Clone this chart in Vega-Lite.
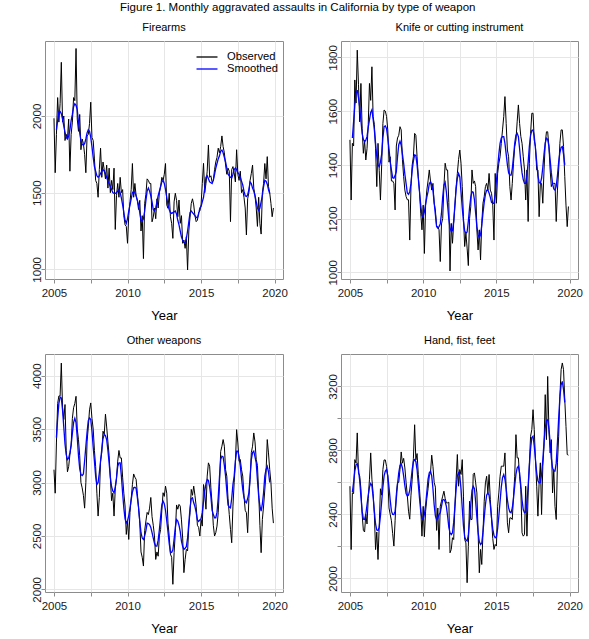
{
"$schema":"https://vega.github.io/schema/vega-lite/v6.json",
"title":{"text":"Figure 1. Monthly aggravated assaults in California by type of weapon","fontSize":11.5,"fontWeight":"normal","anchor":"middle","dx":-9,"offset":8},
"padding":{"left":30,"top":2,"right":5,"bottom":5},
"bounds":"flush",
"spacing":{"row":75,"column":58},
"columns":2,
"data":{"values":[
{"t":2005,"fo":1985,"ko":1493,"wo":3120,"ho":2576},
{"t":2005.083,"fo":1630,"ko":1269,"wo":2900,"ho":2180},
{"t":2005.167,"fo":1880,"fs":1910,"ko":1480,"ks":1500,"wo":3370,"ws":3420,"ho":2535,"hs":2540},
{"t":2005.25,"fo":2120,"fs":1970,"ko":1470,"ks":1560,"wo":3740,"ws":3600,"ho":2530,"hs":2600},
{"t":2005.333,"fo":1960,"fs":2030,"ko":1716,"ks":1620,"wo":3810,"ws":3740,"ho":2742,"hs":2670},
{"t":2005.417,"fo":2080,"fs":2030,"ko":1630,"ks":1665,"wo":3810,"ws":3800,"ho":2720,"hs":2710},
{"t":2005.5,"fo":2350,"fs":2015,"ko":1827,"ks":1678,"wo":4118,"ws":3790,"ho":2909,"hs":2717},
{"t":2005.583,"fo":1960,"fs":1980,"ko":1700,"ks":1650,"wo":3700,"ws":3680,"ho":2660,"hs":2680},
{"t":2005.667,"fo":2000,"fs":1935,"ko":1560,"ks":1616,"wo":3590,"ws":3520,"ho":2640,"hs":2610},
{"t":2005.75,"fo":1840,"fs":1895,"ko":1703,"ks":1565,"wo":3730,"ws":3360,"ho":2560,"hs":2510},
{"t":2005.833,"fo":1880,"fs":1860,"ko":1535,"ks":1517,"wo":3300,"ws":3260,"ho":2400,"hs":2420},
{"t":2005.917,"fo":1850,"fs":1850,"ko":1443,"ks":1495,"wo":3100,"ws":3215,"ho":2300,"hs":2370},
{"t":2006,"fo":1980,"fs":1870,"ko":1490,"ks":1486,"wo":3150,"ws":3230,"ho":2290,"hs":2368},
{"t":2006.083,"fo":1640,"fs":1910,"ko":1418,"ks":1492,"wo":3260,"ws":3277,"ho":2400,"hs":2400},
{"t":2006.167,"fo":1880,"fs":1970,"ko":1460,"ks":1505,"wo":3350,"ws":3350,"ho":2340,"hs":2460},
{"t":2006.25,"fo":1960,"fs":2010,"ko":1550,"ks":1540,"wo":3600,"ws":3460,"ho":2500,"hs":2520},
{"t":2006.333,"fo":2120,"fs":2060,"ko":1703,"ks":1567,"wo":3700,"ws":3560,"ho":2620,"hs":2570},
{"t":2006.417,"fo":2100,"fs":2080,"ko":1640,"ks":1595,"wo":3740,"ws":3600,"ho":2784,"hs":2593},
{"t":2006.5,"fo":2440,"fs":2070,"ko":1765,"ks":1605,"wo":3807,"ws":3560,"ho":2620,"hs":2580},
{"t":2006.583,"fo":1980,"fs":2040,"ko":1580,"ks":1570,"wo":3500,"ws":3420,"ho":2530,"hs":2510},
{"t":2006.667,"fo":1900,"fs":1960,"ko":1550,"ks":1530,"wo":3400,"ws":3250,"ho":2400,"hs":2420},
{"t":2006.75,"fo":2010,"fs":1890,"ko":1460,"ks":1480,"wo":3250,"ws":3130,"ho":2180,"hs":2340},
{"t":2006.833,"fo":1780,"fs":1840,"ko":1319,"ks":1430,"wo":3000,"ws":3075,"ho":2290,"hs":2302},
{"t":2006.917,"fo":1850,"fs":1815,"ko":1480,"ks":1400,"wo":2950,"ws":3065,"ho":2118,"hs":2300},
{"t":2007,"fo":1820,"fs":1810,"ko":1380,"ks":1393,"wo":2880,"ws":3080,"ho":2330,"hs":2320},
{"t":2007.083,"fo":1750,"fs":1820,"ko":1269,"ks":1410,"wo":2760,"ws":3200,"ho":2560,"hs":2390},
{"t":2007.167,"fo":1630,"fs":1850,"ko":1400,"ks":1440,"wo":3000,"ws":3340,"ho":2520,"hs":2480},
{"t":2007.25,"fo":1870,"fs":1890,"ko":1554,"ks":1500,"wo":3380,"ws":3470,"ho":2680,"hs":2570},
{"t":2007.333,"fo":1880,"fs":1910,"ko":1604,"ks":1542,"wo":3520,"ws":3580,"ho":2740,"hs":2640},
{"t":2007.417,"fo":1950,"fs":1900,"ko":1600,"ks":1545,"wo":3680,"ws":3605,"ho":2740,"hs":2670},
{"t":2007.5,"fo":2090,"fs":1860,"ko":1580,"ks":1535,"wo":3745,"ws":3590,"ho":2700,"hs":2680},
{"t":2007.583,"fo":1860,"fs":1800,"ko":1530,"ks":1500,"wo":3600,"ws":3480,"ho":2640,"hs":2640},
{"t":2007.667,"fo":1840,"fs":1730,"ko":1410,"ks":1460,"wo":3500,"ws":3330,"ho":2440,"hs":2570},
{"t":2007.75,"fo":1720,"fs":1670,"ko":1430,"ks":1410,"wo":3300,"ws":3200,"ho":2400,"hs":2490},
{"t":2007.833,"fo":1580,"fs":1640,"ko":1340,"ks":1380,"wo":3150,"ws":3060,"ho":2360,"hs":2420},
{"t":2007.917,"fo":1560,"fs":1610,"ko":1340,"ks":1352,"wo":2900,"ws":2980,"ho":2280,"hs":2400},
{"t":2008,"fo":1470,"fs":1600,"ko":1330,"ks":1350,"wo":2686,"ws":3000,"ho":2202,"hs":2399},
{"t":2008.083,"fo":1650,"fs":1610,"ko":1232,"ks":1360,"wo":2860,"ws":3090,"ho":2360,"hs":2420},
{"t":2008.167,"fo":1790,"fs":1625,"ko":1470,"ks":1375,"wo":3200,"ws":3200,"ho":2530,"hs":2500},
{"t":2008.25,"fo":1600,"fs":1640,"ko":1500,"ks":1430,"wo":3280,"ws":3310,"ho":2600,"hs":2590},
{"t":2008.333,"fo":1700,"fs":1650,"ko":1510,"ks":1475,"wo":3480,"ws":3410,"ho":2600,"hs":2660},
{"t":2008.417,"fo":1650,"fs":1640,"ko":1542,"ks":1488,"wo":3450,"ws":3450,"ho":2680,"hs":2705},
{"t":2008.5,"fo":1590,"fs":1625,"ko":1530,"ks":1474,"wo":3640,"ws":3440,"ho":2790,"hs":2717},
{"t":2008.583,"fo":1680,"fs":1600,"ko":1420,"ks":1440,"wo":3520,"ws":3400,"ho":2720,"hs":2690},
{"t":2008.667,"fo":1530,"fs":1575,"ko":1356,"ks":1406,"wo":3380,"ws":3300,"ho":2750,"hs":2640},
{"t":2008.75,"fo":1660,"fs":1560,"ko":1306,"ks":1365,"wo":3250,"ws":3180,"ho":2690,"hs":2580},
{"t":2008.833,"fo":1500,"fs":1540,"ko":1282,"ks":1331,"wo":3040,"ws":3050,"ho":2600,"hs":2530},
{"t":2008.917,"fo":1580,"fs":1520,"ko":1270,"ks":1295,"wo":2830,"ws":2960,"ho":2520,"hs":2515},
{"t":2009,"fo":1520,"fs":1500,"ko":1270,"ks":1290,"wo":2900,"ws":2920,"ho":2420,"hs":2520},
{"t":2009.083,"fo":1660,"fs":1495,"ko":1120,"ks":1300,"wo":2686,"ws":2904,"ho":2370,"hs":2550},
{"t":2009.167,"fo":1260,"fs":1495,"ko":1320,"ks":1330,"wo":2940,"ws":2960,"ho":2520,"hs":2610},
{"t":2009.25,"fo":1480,"fs":1500,"ko":1400,"ks":1380,"wo":3040,"ws":3040,"ho":2620,"hs":2680},
{"t":2009.333,"fo":1560,"fs":1510,"ko":1430,"ks":1415,"wo":3200,"ws":3150,"ho":2750,"hs":2730},
{"t":2009.417,"fo":1470,"fs":1520,"ko":1517,"ks":1437,"wo":3300,"ws":3184,"ho":2960,"hs":2742},
{"t":2009.5,"fo":1600,"fs":1500,"ko":1510,"ks":1435,"wo":3230,"ws":3184,"ho":2740,"hs":2730},
{"t":2009.583,"fo":1500,"fs":1465,"ko":1430,"ks":1400,"wo":3230,"ws":3060,"ho":2780,"hs":2680},
{"t":2009.667,"fo":1520,"fs":1420,"ko":1356,"ks":1350,"wo":3050,"ws":2900,"ho":2650,"hs":2590},
{"t":2009.75,"fo":1350,"fs":1370,"ko":1300,"ks":1300,"wo":2900,"ws":2760,"ho":2560,"hs":2500},
{"t":2009.833,"fo":1290,"fs":1320,"ko":1220,"ks":1250,"wo":2780,"ws":2660,"ho":2440,"hs":2420},
{"t":2009.917,"fo":1280,"fs":1300,"ko":1158,"ks":1210,"wo":2514,"ws":2620,"ho":2264,"hs":2375},
{"t":2010,"fo":1170,"fs":1330,"ko":1250,"ks":1207,"wo":2640,"ws":2640,"ho":2450,"hs":2368},
{"t":2010.083,"fo":1350,"fs":1380,"ko":1070,"ks":1225,"wo":2467,"ws":2690,"ho":2260,"hs":2400},
{"t":2010.167,"fo":1440,"fs":1420,"ko":1250,"ks":1255,"wo":2720,"ws":2760,"ho":2420,"hs":2460},
{"t":2010.25,"fo":1520,"fs":1460,"ko":1306,"ks":1280,"wo":2850,"ws":2840,"ho":2500,"hs":2540},
{"t":2010.333,"fo":1690,"fs":1500,"ko":1340,"ks":1300,"wo":2980,"ws":2910,"ho":2560,"hs":2620},
{"t":2010.417,"fo":1470,"fs":1510,"ko":1381,"ks":1330,"wo":3080,"ws":2950,"ho":2640,"hs":2660},
{"t":2010.5,"fo":1560,"fs":1500,"ko":1340,"ks":1337,"wo":3050,"ws":2955,"ho":2660,"hs":2670},
{"t":2010.583,"fo":1480,"fs":1480,"ko":1306,"ks":1325,"wo":3030,"ws":2945,"ho":2770,"hs":2640},
{"t":2010.667,"fo":1450,"fs":1450,"ko":1331,"ks":1305,"wo":2900,"ws":2860,"ho":2700,"hs":2560},
{"t":2010.75,"fo":1390,"fs":1420,"ko":1257,"ks":1260,"wo":2760,"ws":2770,"ho":2600,"hs":2460},
{"t":2010.833,"fo":1450,"fs":1370,"ko":1232,"ks":1215,"wo":2620,"ws":2640,"ho":2570,"hs":2390},
{"t":2010.917,"fo":1250,"fs":1320,"ko":1170,"ks":1170,"wo":2350,"ws":2530,"ho":2300,"hs":2368},
{"t":2011,"fo":1350,"fs":1315,"ko":1170,"ks":1164,"wo":2300,"ws":2480,"ho":2440,"hs":2375},
{"t":2011.083,"fo":1070,"fs":1330,"ko":1158,"ks":1170,"wo":2218,"ws":2467,"ho":2181,"hs":2400},
{"t":2011.167,"fo":1430,"fs":1380,"ko":1040,"ks":1180,"wo":2550,"ws":2500,"ho":2451,"hs":2410},
{"t":2011.25,"fo":1490,"fs":1450,"ko":1180,"ks":1220,"wo":2640,"ws":2550,"ho":2482,"hs":2450},
{"t":2011.333,"fo":1590,"fs":1510,"ko":1200,"ks":1280,"wo":2720,"ws":2620,"ho":2514,"hs":2490},
{"t":2011.417,"fo":1580,"fs":1530,"ko":1319,"ks":1325,"wo":2700,"ws":2615,"ho":2545,"hs":2493},
{"t":2011.5,"fo":1560,"fs":1510,"ko":1406,"ks":1335,"wo":2760,"ws":2605,"ho":2500,"hs":2480},
{"t":2011.583,"fo":1560,"fs":1480,"ko":1381,"ks":1300,"wo":2860,"ws":2580,"ho":2472,"hs":2450},
{"t":2011.667,"fo":1310,"fs":1440,"ko":1381,"ks":1250,"wo":2680,"ws":2530,"ho":2472,"hs":2390},
{"t":2011.75,"fo":1340,"fs":1390,"ko":1260,"ks":1200,"wo":2600,"ws":2480,"ho":2476,"hs":2320},
{"t":2011.833,"fo":1400,"fs":1380,"ko":1005,"ks":1165,"wo":2500,"ws":2430,"ho":2160,"hs":2285},
{"t":2011.917,"fo":1330,"fs":1400,"ko":1182,"ks":1152,"wo":2280,"ws":2405,"ho":2181,"hs":2274},
{"t":2012,"fo":1460,"fs":1440,"ko":1108,"ks":1155,"wo":2350,"ws":2405,"ho":2254,"hs":2285},
{"t":2012.083,"fo":1400,"fs":1480,"ko":1182,"ks":1190,"wo":2310,"ws":2460,"ho":2243,"hs":2350},
{"t":2012.167,"fo":1500,"fs":1510,"ko":1250,"ks":1250,"wo":2500,"ws":2560,"ho":2451,"hs":2450},
{"t":2012.25,"fo":1540,"fs":1540,"ko":1319,"ks":1310,"wo":2560,"ws":2680,"ho":2618,"hs":2560},
{"t":2012.333,"fo":1600,"fs":1570,"ko":1368,"ks":1350,"wo":2740,"ws":2790,"ho":2774,"hs":2640},
{"t":2012.417,"fo":1580,"fs":1580,"ko":1420,"ks":1368,"wo":2904,"ws":2826,"ho":2576,"hs":2659},
{"t":2012.5,"fo":1620,"fs":1560,"ko":1455,"ks":1355,"wo":2870,"ws":2800,"ho":2680,"hs":2640},
{"t":2012.583,"fo":1690,"fs":1520,"ko":1406,"ks":1300,"wo":2966,"ws":2740,"ho":2649,"hs":2560},
{"t":2012.667,"fo":1420,"fs":1470,"ko":1319,"ks":1240,"wo":2900,"ws":2640,"ho":2742,"hs":2440},
{"t":2012.75,"fo":1398,"fs":1420,"ko":1207,"ks":1190,"wo":2620,"ws":2540,"ho":2514,"hs":2330},
{"t":2012.833,"fo":1496,"fs":1390,"ko":1096,"ks":1155,"wo":2500,"ws":2430,"ho":2243,"hs":2260},
{"t":2012.917,"fo":1343,"fs":1370,"ko":1145,"ks":1145,"wo":2330,"ws":2350,"ho":2222,"hs":2240},
{"t":2013,"fo":1300,"fs":1365,"ko":1090,"ks":1150,"wo":2300,"ws":2345,"ho":1973,"hs":2233},
{"t":2013.083,"fo":1202,"fs":1370,"ko":1025,"ks":1190,"wo":2047,"ws":2370,"ho":2200,"hs":2270},
{"t":2013.167,"fo":1440,"fs":1375,"ko":1200,"ks":1240,"wo":2343,"ws":2470,"ho":2482,"hs":2360},
{"t":2013.25,"fo":1496,"fs":1380,"ko":1244,"ks":1280,"wo":2530,"ws":2580,"ho":2368,"hs":2460},
{"t":2013.333,"fo":1450,"fs":1360,"ko":1381,"ks":1300,"wo":2790,"ws":2654,"ho":2368,"hs":2550},
{"t":2013.417,"fo":1343,"fs":1320,"ko":1331,"ks":1298,"wo":2750,"ws":2640,"ho":2650,"hs":2576},
{"t":2013.5,"fo":1452,"fs":1290,"ko":1340,"ks":1270,"wo":2795,"ws":2600,"ho":2659,"hs":2560},
{"t":2013.583,"fo":1300,"fs":1250,"ko":1319,"ks":1220,"wo":2779,"ws":2540,"ho":2597,"hs":2480},
{"t":2013.667,"fo":1350,"fs":1210,"ko":1158,"ks":1170,"wo":2650,"ws":2450,"ho":2534,"hs":2380},
{"t":2013.75,"fo":1170,"fs":1190,"ko":1083,"ks":1140,"wo":2480,"ws":2400,"ho":2285,"hs":2290},
{"t":2013.833,"fo":1191,"fs":1175,"ko":1158,"ks":1128,"wo":2156,"ws":2374,"ho":2035,"hs":2230},
{"t":2013.917,"fo":1137,"fs":1170,"ko":1046,"ks":1140,"wo":2280,"ws":2385,"ho":2181,"hs":2212},
{"t":2014,"fo":1213,"fs":1200,"ko":1182,"ks":1175,"wo":2374,"ws":2400,"ho":2087,"hs":2220},
{"t":2014.083,"fo":996,"fs":1250,"ko":1257,"ks":1220,"wo":2360,"ws":2480,"ho":2285,"hs":2290},
{"t":2014.167,"fo":1250,"fs":1310,"ko":1282,"ks":1260,"wo":2592,"ws":2620,"ho":2482,"hs":2380},
{"t":2014.25,"fo":1340,"fs":1370,"ko":1319,"ks":1290,"wo":2717,"ws":2760,"ho":2597,"hs":2460},
{"t":2014.333,"fo":1430,"fs":1380,"ko":1331,"ks":1305,"wo":2935,"ws":2850,"ho":2638,"hs":2520},
{"t":2014.417,"fo":1460,"fs":1370,"ko":1306,"ks":1306,"wo":2880,"ws":2857,"ho":2534,"hs":2534},
{"t":2014.5,"fo":1420,"fs":1360,"ko":1368,"ks":1295,"wo":2966,"ws":2810,"ho":2649,"hs":2520},
{"t":2014.583,"fo":1350,"fs":1350,"ko":1306,"ks":1280,"wo":2880,"ws":2775,"ho":2493,"hs":2460},
{"t":2014.667,"fo":1311,"fs":1340,"ko":1294,"ks":1260,"wo":2779,"ws":2720,"ho":2368,"hs":2380},
{"t":2014.75,"fo":1320,"fs":1335,"ko":1250,"ks":1257,"wo":2600,"ws":2650,"ho":2250,"hs":2310},
{"t":2014.833,"fo":1370,"fs":1360,"ko":1120,"ks":1257,"wo":2580,"ws":2635,"ho":2181,"hs":2270},
{"t":2014.917,"fo":1380,"fs":1400,"ko":1368,"ks":1290,"wo":2499,"ws":2650,"ho":2212,"hs":2254},
{"t":2015,"fo":1420,"fs":1410,"ko":1257,"ks":1340,"wo":2654,"ws":2661,"ho":2202,"hs":2260},
{"t":2015.083,"fo":1560,"fs":1440,"ko":1368,"ks":1390,"wo":2592,"ws":2720,"ho":2451,"hs":2310},
{"t":2015.167,"fo":1691,"fs":1470,"ko":1406,"ks":1440,"wo":2981,"ws":2820,"ho":2534,"hs":2390},
{"t":2015.25,"fo":1500,"fs":1530,"ko":1430,"ks":1480,"wo":2904,"ws":2920,"ho":2638,"hs":2480},
{"t":2015.333,"fo":1560,"fs":1600,"ko":1480,"ks":1500,"wo":2750,"ws":2990,"ho":2701,"hs":2570},
{"t":2015.417,"fo":1640,"fs":1610,"ko":1530,"ks":1505,"wo":3060,"ws":3028,"ho":2701,"hs":2630},
{"t":2015.5,"fo":1811,"fs":1590,"ko":1580,"ks":1505,"wo":3184,"ws":3020,"ho":2701,"hs":2649},
{"t":2015.583,"fo":1600,"fs":1570,"ko":1654,"ks":1480,"wo":3153,"ws":2960,"ho":2784,"hs":2620},
{"t":2015.667,"fo":1610,"fs":1565,"ko":1554,"ks":1440,"wo":2950,"ws":2870,"ho":2555,"hs":2560},
{"t":2015.75,"fo":1570,"fs":1560,"ko":1455,"ks":1400,"wo":2800,"ws":2740,"ho":2347,"hs":2490},
{"t":2015.833,"fo":1580,"fs":1580,"ko":1430,"ks":1370,"wo":2600,"ws":2700,"ho":2285,"hs":2440},
{"t":2015.917,"fo":1650,"fs":1620,"ko":1319,"ks":1362,"wo":2499,"ws":2670,"ho":2378,"hs":2415},
{"t":2016,"fo":1700,"fs":1660,"ko":1269,"ks":1362,"wo":2530,"ws":2670,"ho":2378,"hs":2410},
{"t":2016.083,"fo":1730,"fs":1690,"ko":1331,"ks":1385,"wo":2592,"ws":2720,"ho":2368,"hs":2440},
{"t":2016.167,"fo":1790,"fs":1720,"ko":1406,"ks":1430,"wo":2717,"ws":2860,"ho":2514,"hs":2500},
{"t":2016.25,"fo":1760,"fs":1740,"ko":1468,"ks":1480,"wo":2966,"ws":3050,"ho":2638,"hs":2580},
{"t":2016.333,"fo":1800,"fs":1770,"ko":1492,"ks":1510,"wo":3290,"ws":3215,"ho":2898,"hs":2650},
{"t":2016.417,"fo":1870,"fs":1778,"ko":1560,"ks":1517,"wo":3340,"ws":3246,"ho":2753,"hs":2690},
{"t":2016.5,"fo":1800,"fs":1760,"ko":1623,"ks":1505,"wo":3402,"ws":3240,"ho":2753,"hs":2701},
{"t":2016.583,"fo":1760,"fs":1730,"ko":1554,"ks":1460,"wo":3340,"ws":3160,"ho":2638,"hs":2660},
{"t":2016.667,"fo":1680,"fs":1700,"ko":1505,"ks":1410,"wo":3120,"ws":3060,"ho":2555,"hs":2580},
{"t":2016.75,"fo":1620,"fs":1660,"ko":1480,"ks":1370,"wo":3059,"ws":2920,"ho":2285,"hs":2490},
{"t":2016.833,"fo":1660,"fs":1620,"ko":1430,"ks":1345,"wo":2850,"ws":2790,"ho":2264,"hs":2430},
{"t":2016.917,"fo":1640,"fs":1610,"ko":1381,"ks":1331,"wo":2700,"ws":2770,"ho":2274,"hs":2410},
{"t":2017,"fo":1311,"fs":1600,"ko":1269,"ks":1331,"wo":2561,"ws":2763,"ho":2576,"hs":2415},
{"t":2017.083,"fo":1650,"fs":1595,"ko":1381,"ks":1360,"wo":2436,"ws":2850,"ho":2264,"hs":2470},
{"t":2017.167,"fo":1670,"fs":1620,"ko":1189,"ks":1410,"wo":2779,"ws":2980,"ho":2534,"hs":2580},
{"t":2017.25,"fo":1630,"fs":1650,"ko":1406,"ks":1470,"wo":2997,"ws":3060,"ho":2722,"hs":2700},
{"t":2017.333,"fo":1570,"fs":1660,"ko":1517,"ks":1510,"wo":3184,"ws":3200,"ho":2888,"hs":2810},
{"t":2017.417,"fo":1780,"fs":1650,"ko":1592,"ks":1528,"wo":3495,"ws":3293,"ho":2930,"hs":2880},
{"t":2017.5,"fo":1620,"fs":1630,"ko":1592,"ks":1530,"wo":3370,"ws":3293,"ho":3054,"hs":2888},
{"t":2017.583,"fo":1580,"fs":1620,"ko":1492,"ks":1505,"wo":3200,"ws":3240,"ho":2930,"hs":2830},
{"t":2017.667,"fo":1640,"fs":1600,"ko":1468,"ks":1460,"wo":3215,"ws":3153,"ho":2742,"hs":2740},
{"t":2017.75,"fo":1500,"fs":1575,"ko":1381,"ks":1410,"wo":3120,"ws":3040,"ho":2576,"hs":2660},
{"t":2017.833,"fo":1520,"fs":1550,"ko":1381,"ks":1360,"wo":3060,"ws":2935,"ho":2389,"hs":2610},
{"t":2017.917,"fo":1470,"fs":1510,"ko":1207,"ks":1335,"wo":2880,"ws":2860,"ho":2600,"hs":2597},
{"t":2018,"fo":1400,"fs":1480,"ko":1331,"ks":1331,"wo":2740,"ws":2820,"ho":2722,"hs":2600},
{"t":2018.083,"fo":1224,"fs":1475,"ko":1331,"ks":1350,"wo":2717,"ws":2810,"ho":2399,"hs":2650},
{"t":2018.167,"fo":1460,"fs":1485,"ko":1257,"ks":1390,"wo":2530,"ws":2850,"ho":2701,"hs":2740},
{"t":2018.25,"fo":1500,"fs":1520,"ko":1381,"ks":1440,"wo":2850,"ws":2904,"ho":2826,"hs":2850},
{"t":2018.333,"fo":1580,"fs":1570,"ko":1480,"ks":1480,"wo":3028,"ws":3050,"ho":3148,"hs":2940},
{"t":2018.417,"fo":1626,"fs":1560,"ko":1523,"ks":1499,"wo":3280,"ws":3215,"ho":2867,"hs":2985},
{"t":2018.5,"fo":1680,"fs":1530,"ko":1523,"ks":1495,"wo":3340,"ws":3280,"ho":3262,"hs":2990},
{"t":2018.583,"fo":1530,"fs":1510,"ko":1468,"ks":1470,"wo":3464,"ws":3293,"ho":2930,"hs":2940},
{"t":2018.667,"fo":1480,"fs":1480,"ko":1381,"ks":1420,"wo":3380,"ws":3240,"ho":2784,"hs":2850},
{"t":2018.75,"fo":1400,"fs":1440,"ko":1319,"ks":1370,"wo":3215,"ws":3184,"ho":2867,"hs":2750},
{"t":2018.833,"fo":1280,"fs":1400,"ko":1331,"ks":1330,"wo":3160,"ws":3020,"ho":2534,"hs":2690},
{"t":2018.917,"fo":1470,"fs":1385,"ko":1331,"ks":1310,"wo":2900,"ws":2872,"ho":2680,"hs":2670},
{"t":2019,"fo":1300,"fs":1400,"ko":1331,"ks":1306,"wo":2600,"ws":2780,"ho":2450,"hs":2670},
{"t":2019.083,"fo":1230,"fs":1440,"ko":1189,"ks":1320,"wo":2343,"ws":2732,"ho":2368,"hs":2720},
{"t":2019.167,"fo":1500,"fs":1480,"ko":1306,"ks":1360,"wo":2654,"ws":2800,"ho":2722,"hs":2850},
{"t":2019.25,"fo":1560,"fs":1540,"ko":1381,"ks":1410,"wo":2780,"ws":2904,"ho":2888,"hs":3000},
{"t":2019.333,"fo":1690,"fs":1580,"ko":1480,"ks":1445,"wo":2930,"ws":3060,"ho":3138,"hs":3130},
{"t":2019.417,"fo":1590,"fs":1575,"ko":1530,"ks":1465,"wo":3090,"ws":3122,"ho":3304,"hs":3210},
{"t":2019.5,"fo":1735,"fs":1555,"ko":1530,"ks":1468,"wo":3402,"ws":3150,"ho":3346,"hs":3231},
{"t":2019.583,"fo":1540,"fs":1520,"ko":1468,"ks":1440,"wo":3277,"ws":3100,"ho":3304,"hs":3180},
{"t":2019.667,"fo":1500,"fs":1495,"ko":1356,"ks":1400,"wo":3122,"ws":3000,"ho":3117,"hs":3100},
{"t":2019.75,"fo":1430,"ko":1250,"wo":2997,"ho":2950},
{"t":2019.833,"fo":1343,"ko":1170,"wo":2760,"ho":2774},
{"t":2019.917,"fo":1400,"ko":1245,"wo":2620,"ho":2770}
]},
"concat":[
{"title":{"text":"Firearms"},"width":238,"height":238,
 "encoding":{"x":{"field":"t","type":"quantitative","scale":{"domain":[2004.39,2020.57],"nice":false,"zero":false},"axis":{"values":[2005,2007.5,2010,2012.5,2015,2017.5,2020],"format":"d","labelExpr":"datum.value % 5 === 0 ? datum.label : ''","title":"Year"}}},
 "layer":[
  {"mark":{"type":"line","strokeWidth":1},"encoding":{"y":{"field":"fo","type":"quantitative","scale":{"domain":[937,2489],"nice":false,"zero":false},"axis":{"values":[1000,1500,2000],"format":"d","title":null}},
   "color":{"datum":"Observed","type":"nominal","scale":{"domain":["Observed","Smoothed"],"range":["#000000","#0000ff"]},"legend":{"title":null,"orient":"none","legendX":156,"legendY":10,"padding":0,"symbolType":"M-2,0H2","symbolSize":110,"symbolStrokeWidth":1.3,"symbolFillColor":"transparent","labelFontSize":11.2,"labelOffset":14,"rowPadding":-1,"labelColor":"#000"}}}},
  {"mark":{"type":"line","strokeWidth":1.3},"encoding":{"y":{"field":"fs","type":"quantitative","axis":{"values":[1000,1500,2000],"format":"d","title":null}},"color":{"datum":"Smoothed","type":"nominal"}}}
 ]},
{"title":{"text":"Knife or cutting instrument"},"width":237,"height":238,
 "encoding":{"x":{"field":"t","type":"quantitative","scale":{"domain":[2004.39,2020.57],"nice":false,"zero":false},"axis":{"values":[2005,2007.5,2010,2012.5,2015,2017.5,2020],"format":"d","labelExpr":"datum.value % 5 === 0 ? datum.label : ''","title":"Year"}}},
 "layer":[
  {"mark":{"type":"line","strokeWidth":1,"color":"#000000"},"encoding":{"y":{"field":"ko","type":"quantitative","scale":{"domain":[975,1861],"nice":false,"zero":false},"axis":{"values":[1000,1200,1400,1600,1800],"format":"d","title":null}}}},
  {"mark":{"type":"line","strokeWidth":1.3,"color":"#0000ff"},"encoding":{"y":{"field":"ks","type":"quantitative","axis":{"values":[1000,1200,1400,1600,1800],"format":"d","title":null}}}}
 ]},
{"title":{"text":"Other weapons"},"width":238,"height":238,
 "encoding":{"x":{"field":"t","type":"quantitative","scale":{"domain":[2004.39,2020.57],"nice":false,"zero":false},"axis":{"values":[2005,2007.5,2010,2012.5,2015,2017.5,2020],"format":"d","labelExpr":"datum.value % 5 === 0 ? datum.label : ''","title":"Year"}}},
 "layer":[
  {"mark":{"type":"line","strokeWidth":1,"color":"#000000"},"encoding":{"y":{"field":"wo","type":"quantitative","scale":{"domain":[1975,4203],"nice":false,"zero":false},"axis":{"values":[2000,2500,3000,3500,4000],"format":"d","title":null}}}},
  {"mark":{"type":"line","strokeWidth":1.3,"color":"#0000ff"},"encoding":{"y":{"field":"ws","type":"quantitative","axis":{"values":[2000,2500,3000,3500,4000],"format":"d","title":null}}}}
 ]},
{"title":{"text":"Hand, fist, feet"},"width":237,"height":238,
 "encoding":{"x":{"field":"t","type":"quantitative","scale":{"domain":[2004.39,2020.57],"nice":false,"zero":false},"axis":{"values":[2005,2007.5,2010,2012.5,2015,2017.5,2020],"format":"d","labelExpr":"datum.value % 5 === 0 ? datum.label : ''","title":"Year"}}},
 "layer":[
  {"mark":{"type":"line","strokeWidth":1,"color":"#000000"},"encoding":{"y":{"field":"ho","type":"quantitative","scale":{"domain":[1915,3402],"nice":false,"zero":false},"axis":{"values":[2000,2200,2400,2600,2800,3000,3200],"format":"d","labelExpr":"datum.value % 400 === 0 ? datum.label : ''","title":null}}}},
  {"mark":{"type":"line","strokeWidth":1.3,"color":"#0000ff"},"encoding":{"y":{"field":"hs","type":"quantitative","axis":{"values":[2000,2200,2400,2600,2800,3000,3200],"format":"d","labelExpr":"datum.value % 400 === 0 ? datum.label : ''","title":null}}}}
 ]}
],
"resolve":{"scale":{"color":"independent","x":"independent","y":"independent"},"legend":{"color":"independent"}},
"config":{
 "font":"Liberation Sans",
 "background":"#ffffff",
 "view":{"stroke":"#8c8c8c","strokeWidth":1},
 "title":{"fontSize":11,"fontWeight":"normal","color":"#000000","offset":8},
 "axis":{"grid":true,"gridColor":"#e6e6e6","gridWidth":1,"domain":false,"tickColor":"#8c8c8c","tickSize":4,"labelFontSize":11.5,"labelColor":"#1a1a1a","titleFontSize":13,"titleFontWeight":"normal","titleColor":"#000000","labelOverlap":false,"labelFlush":false},
 "axisX":{"labelPadding":4,"titlePadding":10.5},
 "axisY":{"labelAngle":-90,"labelAlign":"center","labelBaseline":"alphabetic","labelPadding":1},
 "legend":{"labelFont":"Liberation Sans"}
}
}
